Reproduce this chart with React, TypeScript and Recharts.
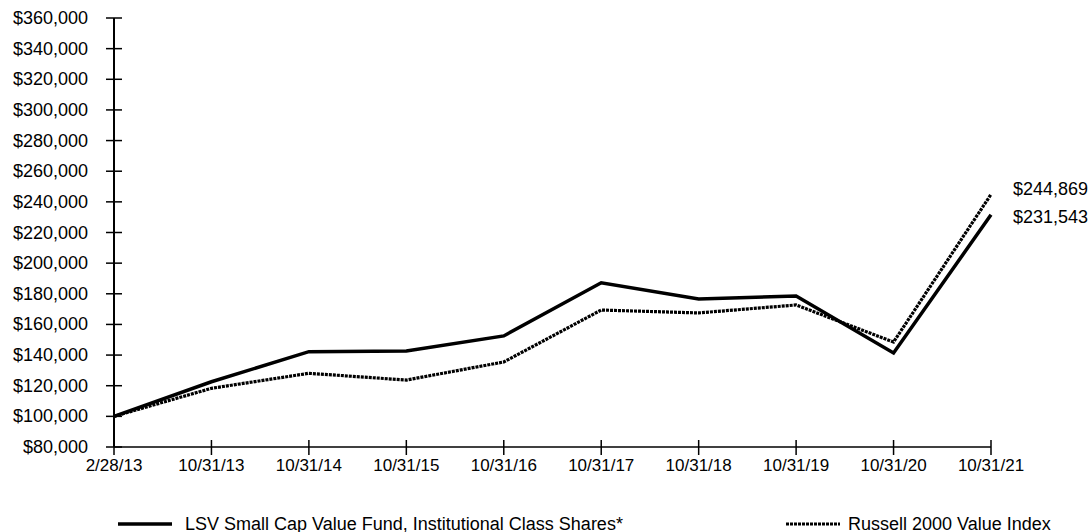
import React from 'react';
import { LineChart, Line, XAxis, YAxis, LabelList } from 'recharts';

const dates = ['2/28/13', '10/31/13', '10/31/14', '10/31/15', '10/31/16', '10/31/17', '10/31/18', '10/31/19', '10/31/20', '10/31/21'];
const lsvValues = [100000, 122600, 142200, 142700, 152500, 187200, 176600, 178600, 141400, 231543];
const russellValues = [100000, 118300, 128100, 123700, 135500, 169400, 167500, 172700, 148500, 244869];
const yTicks = [80000, 100000, 120000, 140000, 160000, 180000, 200000, 220000, 240000, 260000, 280000, 300000, 320000, 340000, 360000];
const seriesNames = ['LSV Small Cap Value Fund, Institutional Class Shares*', 'Russell 2000 Value Index'];

const data = dates.map((d, i) => ({ date: d, lsv: lsvValues[i], russell: russellValues[i] }));

const FONT = '"Liberation Sans", Arial, Helvetica, sans-serif';
const fmt = (v: number) => '$' + v.toLocaleString('en-US');

const YTick = (props: any) => {
  const { x, y, payload } = props;
  return (
    <g>
      <line x1={x - 8} x2={x + 8} y1={y} y2={y} stroke="#000" strokeWidth={1.5} />
      <text x={x - 26} y={y} dy={6} textAnchor="end" fontSize={18} fontFamily={FONT} fill="#000">
        {fmt(payload.value)}
      </text>
    </g>
  );
};

const XTick = (props: any) => {
  const { x, y, payload } = props;
  return (
    <g>
      <line x1={x} x2={x} y1={y - 7} y2={y + 8} stroke="#000" strokeWidth={1.5} />
      <text x={x} y={y + 24} textAnchor="middle" fontSize={17} fontFamily={FONT} fill="#000">
        {payload.value}
      </text>
    </g>
  );
};

const makeEndLabel = (dy: number) => (props: any) => {
  const { x, y, value, index } = props;
  if (index !== dates.length - 1) return null;
  return (
    <text x={x + 22} y={y + dy} textAnchor="start" fontSize={18} fontFamily={FONT} fill="#000">
      {fmt(value)}
    </text>
  );
};

export default function App() {
  return (
    <div style={{ position: 'absolute', left: 0, top: 0, width: 1090, height: 532, background: '#fff' }}>
      <LineChart
        width={1090}
        height={532}
        data={data}
        margin={{ top: 18, right: 99, bottom: 0, left: 0 }}
      >
        <XAxis
          dataKey="date"
          height={85}
          tick={<XTick />}
          tickLine={false}
          tickSize={0}
          tickMargin={0}
          axisLine={{ stroke: '#000', strokeWidth: 1.5 }}
          interval={0}
        />
        <YAxis
          width={114}
          domain={[80000, 360000]}
          ticks={yTicks}
          tick={<YTick />}
          tickLine={false}
          tickSize={0}
          tickMargin={0}
          axisLine={{ stroke: '#000', strokeWidth: 2 }}
          interval={0}
        />
        <Line
          type="linear"
          dataKey="russell"
          stroke="#000"
          strokeWidth={3.2}
          strokeDasharray="3 1"
          dot={false}
          isAnimationActive={false}
        >
          <LabelList dataKey="russell" content={makeEndLabel(1)} />
        </Line>
        <Line
          type="linear"
          dataKey="lsv"
          stroke="#000"
          strokeWidth={3.5}
          dot={false}
          isAnimationActive={false}
        >
          <LabelList dataKey="lsv" content={makeEndLabel(8)} />
        </Line>
      </LineChart>
      <div style={{ position: 'absolute', left: 0, top: 0, width: 1090, height: 532, pointerEvents: 'none' }}>
        <svg width={1090} height={532} style={{ position: 'absolute', left: 0, top: 0 }}>
          <line x1={118} x2={172} y1={524} y2={524} stroke="#000" strokeWidth={3.5} />
          <line x1={786} x2={840} y1={524} y2={524} stroke="#000" strokeWidth={3.2} strokeDasharray="3 1" />
        </svg>
        <div style={{ position: 'absolute', left: 185, top: 513, fontSize: 18, fontFamily: FONT, color: '#000', whiteSpace: 'nowrap', lineHeight: '22px' }}>
          {seriesNames[0]}
        </div>
        <div style={{ position: 'absolute', left: 848, top: 513, fontSize: 18, fontFamily: FONT, color: '#000', whiteSpace: 'nowrap', lineHeight: '22px' }}>
          {seriesNames[1]}
        </div>
      </div>
    </div>
  );
}
